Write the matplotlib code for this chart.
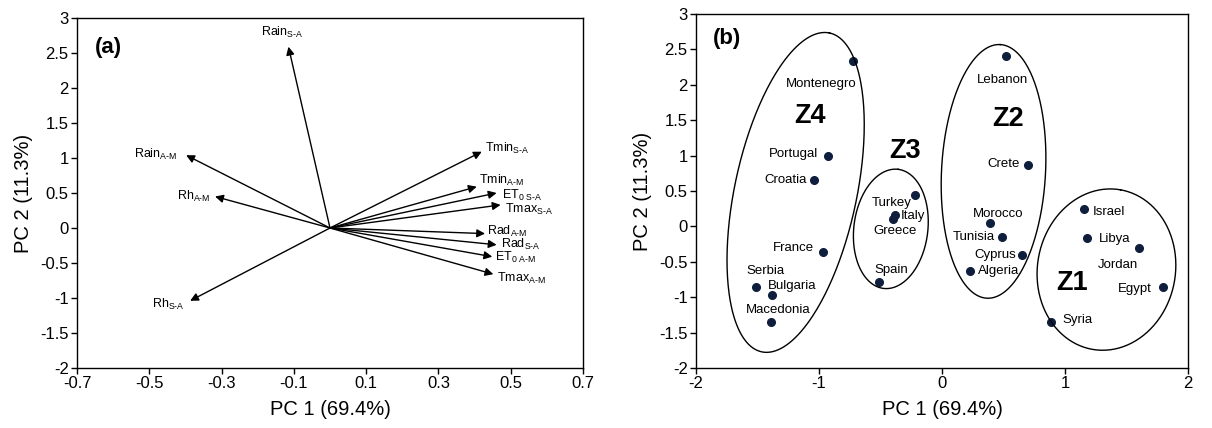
import numpy as np
import matplotlib
matplotlib.use("Agg")
import matplotlib.pyplot as plt

plt.rcParams['font.family'] = ['Liberation Sans', 'DejaVu Sans']
plt.rcParams['mathtext.fontset'] = 'custom'
plt.rcParams['mathtext.rm'] = 'Liberation Sans'
plt.rcParams['mathtext.it'] = 'Liberation Sans'
plt.rcParams['axes.unicode_minus'] = False

# (a) loadings of the climate variables
var_names = ['Rain', 'Rain', 'Rh', 'Tmin', 'Tmin', 'ET', 'Tmax',
             'Rad', 'Rad', 'ET', 'Tmax', 'Rh']
var_subs = ['S-A', 'A-M', 'A-M', 'S-A', 'A-M', '0 S-A', 'S-A',
            'A-M', 'S-A', '0 A-M', 'A-M', 'S-A']
load_pc1 = [-0.115, -0.398, -0.318, 0.420, 0.406, 0.461, 0.472,
            0.429, 0.461, 0.449, 0.452, -0.387]
load_pc2 = [2.59, 1.04, 0.45, 1.09, 0.59, 0.50, 0.33,
            -0.08, -0.24, -0.41, -0.66, -1.04]

# (b) scores of the countries
countries = ['Montenegro', 'Portugal', 'Croatia', 'France', 'Serbia', 'Bulgaria',
             'Macedonia', 'Turkey', 'Italy', 'Greece', 'Spain', 'Lebanon', 'Crete',
             'Morocco', 'Tunisia', 'Cyprus', 'Algeria', 'Israel', 'Libya', 'Jordan',
             'Egypt', 'Syria']
score_pc1 = [-0.72, -0.93, -1.04, -0.97, -1.51, -1.385, -1.39, -0.22, -0.38, -0.40,
             -0.51, 0.52, 0.70, 0.39, 0.485, 0.65, 0.23, 1.155, 1.18, 1.60, 1.80, 0.89]
score_pc2 = [2.33, 0.99, 0.66, -0.36, -0.85, -0.97, -1.35, 0.45, 0.155, 0.11,
             -0.78, 2.40, 0.87, 0.05, -0.15, -0.41, -0.63, 0.25, -0.17, -0.31, -0.86, -1.35]

zones = ['Z4', 'Z3', 'Z2', 'Z1']
zone_label_x = [-1.07, -0.30, 0.54, 1.055]
zone_label_y = [1.56, 1.06, 1.51, -0.80]

# label placement (pixel offsets, alignment)
var_lab = [(-6, 14, 'center'), (-9, 1, 'right'), (-5, 0, 'right'), (3, 3, 'left'),
           (2, 6, 'left'), (5, -2, 'left'), (4, -5, 'left'), (2, 2, 'left'),
           (4, 0, 'left'), (3, -1, 'left'), (4, -4, 'left'), (-5, -4, 'right')]
cty_lab = [(-32, -23, 'center'), (-9, 2, 'right'), (-7, 0, 'right'), (-9, 4, 'right'),
           (9, 16, 'center'), (-4, 9, 'left'), (7, 12, 'center'), (-23, -8, 'center'),
           (5, -1, 'left'), (2, -12, 'center'), (12, 12, 'center'), (-3, -24, 'center'),
           (-8, 1, 'right'), (8, 9, 'center'), (-7, 0, 'right'), (-6, 0, 'right'),
           (8, 0, 'left'), (9, -3, 'left'), (12, -1, 'left'), (-21, -17, 'center'),
           (-12, -2, 'right'), (11, 2, 'left')]
# ellipses: centre (data), semi axes (px), angle (deg, display)
ell = [(-1.19, 0.48, 163, 61, 78), (-0.416, -0.035, 60, 37, 83),
       (0.419, 0.777, 127, 52, 87), (1.337, -0.61, 81, 69, 80)]

fig = plt.figure(figsize=(12.12, 4.28), dpi=100)
ax1 = fig.add_axes([77/1212, 60/428, 506/1212, 350/428])
ax2 = fig.add_axes([696/1212, 60/428, 492/1212, 354/428])

for ax in (ax1, ax2):
    ax.tick_params(direction='out', labelsize=12, length=4, width=1, pad=2)
    for s in ax.spines.values():
        s.set_linewidth(1.0)
    ax.set_ylim(-2, 3)
    ax.set_yticks(np.arange(-2, 3.01, 0.5))
    ax.set_yticklabels(['%g' % v for v in np.arange(-2, 3.01, 0.5)])
    ax.set_xlabel('PC 1 (69.4%)', fontsize=14.5, labelpad=6)
    ax.set_ylabel('PC 2 (11.3%)', fontsize=14.5, labelpad=5)

# panel a
ax1.set_xlim(-0.7, 0.7)
ax1.set_xticks(np.arange(-0.7, 0.71, 0.2))
ax1.set_xticklabels(['%g' % round(v, 1) for v in np.arange(-0.7, 0.71, 0.2)])
for i in range(len(var_names)):
    ax1.annotate('', xy=(load_pc1[i], load_pc2[i]), xytext=(0, 0),
                 arrowprops=dict(arrowstyle='-|>', color='black', lw=1.0,
                                 mutation_scale=12, shrinkA=0, shrinkB=0))
    dx, dy, ha = var_lab[i]
    txt = var_names[i] + r'$_{\text{' + var_subs[i] + '}}$'
    ax1.annotate(txt, xy=(load_pc1[i], load_pc2[i]), xytext=(dx, dy),
                 textcoords='offset pixels', ha=ha, va='center', fontsize=9)
ax1.text(0.035, 0.915, '(a)', transform=ax1.transAxes, fontsize=16,
         fontweight='bold', va='center')

# panel b
ax2.set_xlim(-2, 2)
ax2.set_xticks([-2, -1, 0, 1, 2])
ax2.plot(score_pc1, score_pc2, 'o', color='#0f1e3d', markersize=5.5)
for i in range(len(countries)):
    dx, dy, ha = cty_lab[i]
    ax2.annotate(countries[i], xy=(score_pc1[i], score_pc2[i]), xytext=(dx, dy),
                 textcoords='offset pixels', ha=ha, va='center', fontsize=9.5)
for i in range(len(zones)):
    ax2.text(zone_label_x[i], zone_label_y[i], zones[i], fontsize=19.5,
             fontweight='bold', ha='center', va='center')
sx = 492 / 4.0
sy = 354 / 5.0
t = np.linspace(0, 2 * np.pi, 300)
for cx, cy, a, b, ang in ell:
    th = np.deg2rad(ang)
    px = a * np.cos(t) * np.cos(th) - b * np.sin(t) * np.sin(th)
    py = a * np.cos(t) * np.sin(th) + b * np.sin(t) * np.cos(th)
    ax2.plot(cx + px / sx, cy + py / sy, color='black', lw=1.0)
ax2.text(0.035, 0.93, '(b)', transform=ax2.transAxes, fontsize=16,
         fontweight='bold', va='center')

fig.savefig('out.png', dpi=100)
